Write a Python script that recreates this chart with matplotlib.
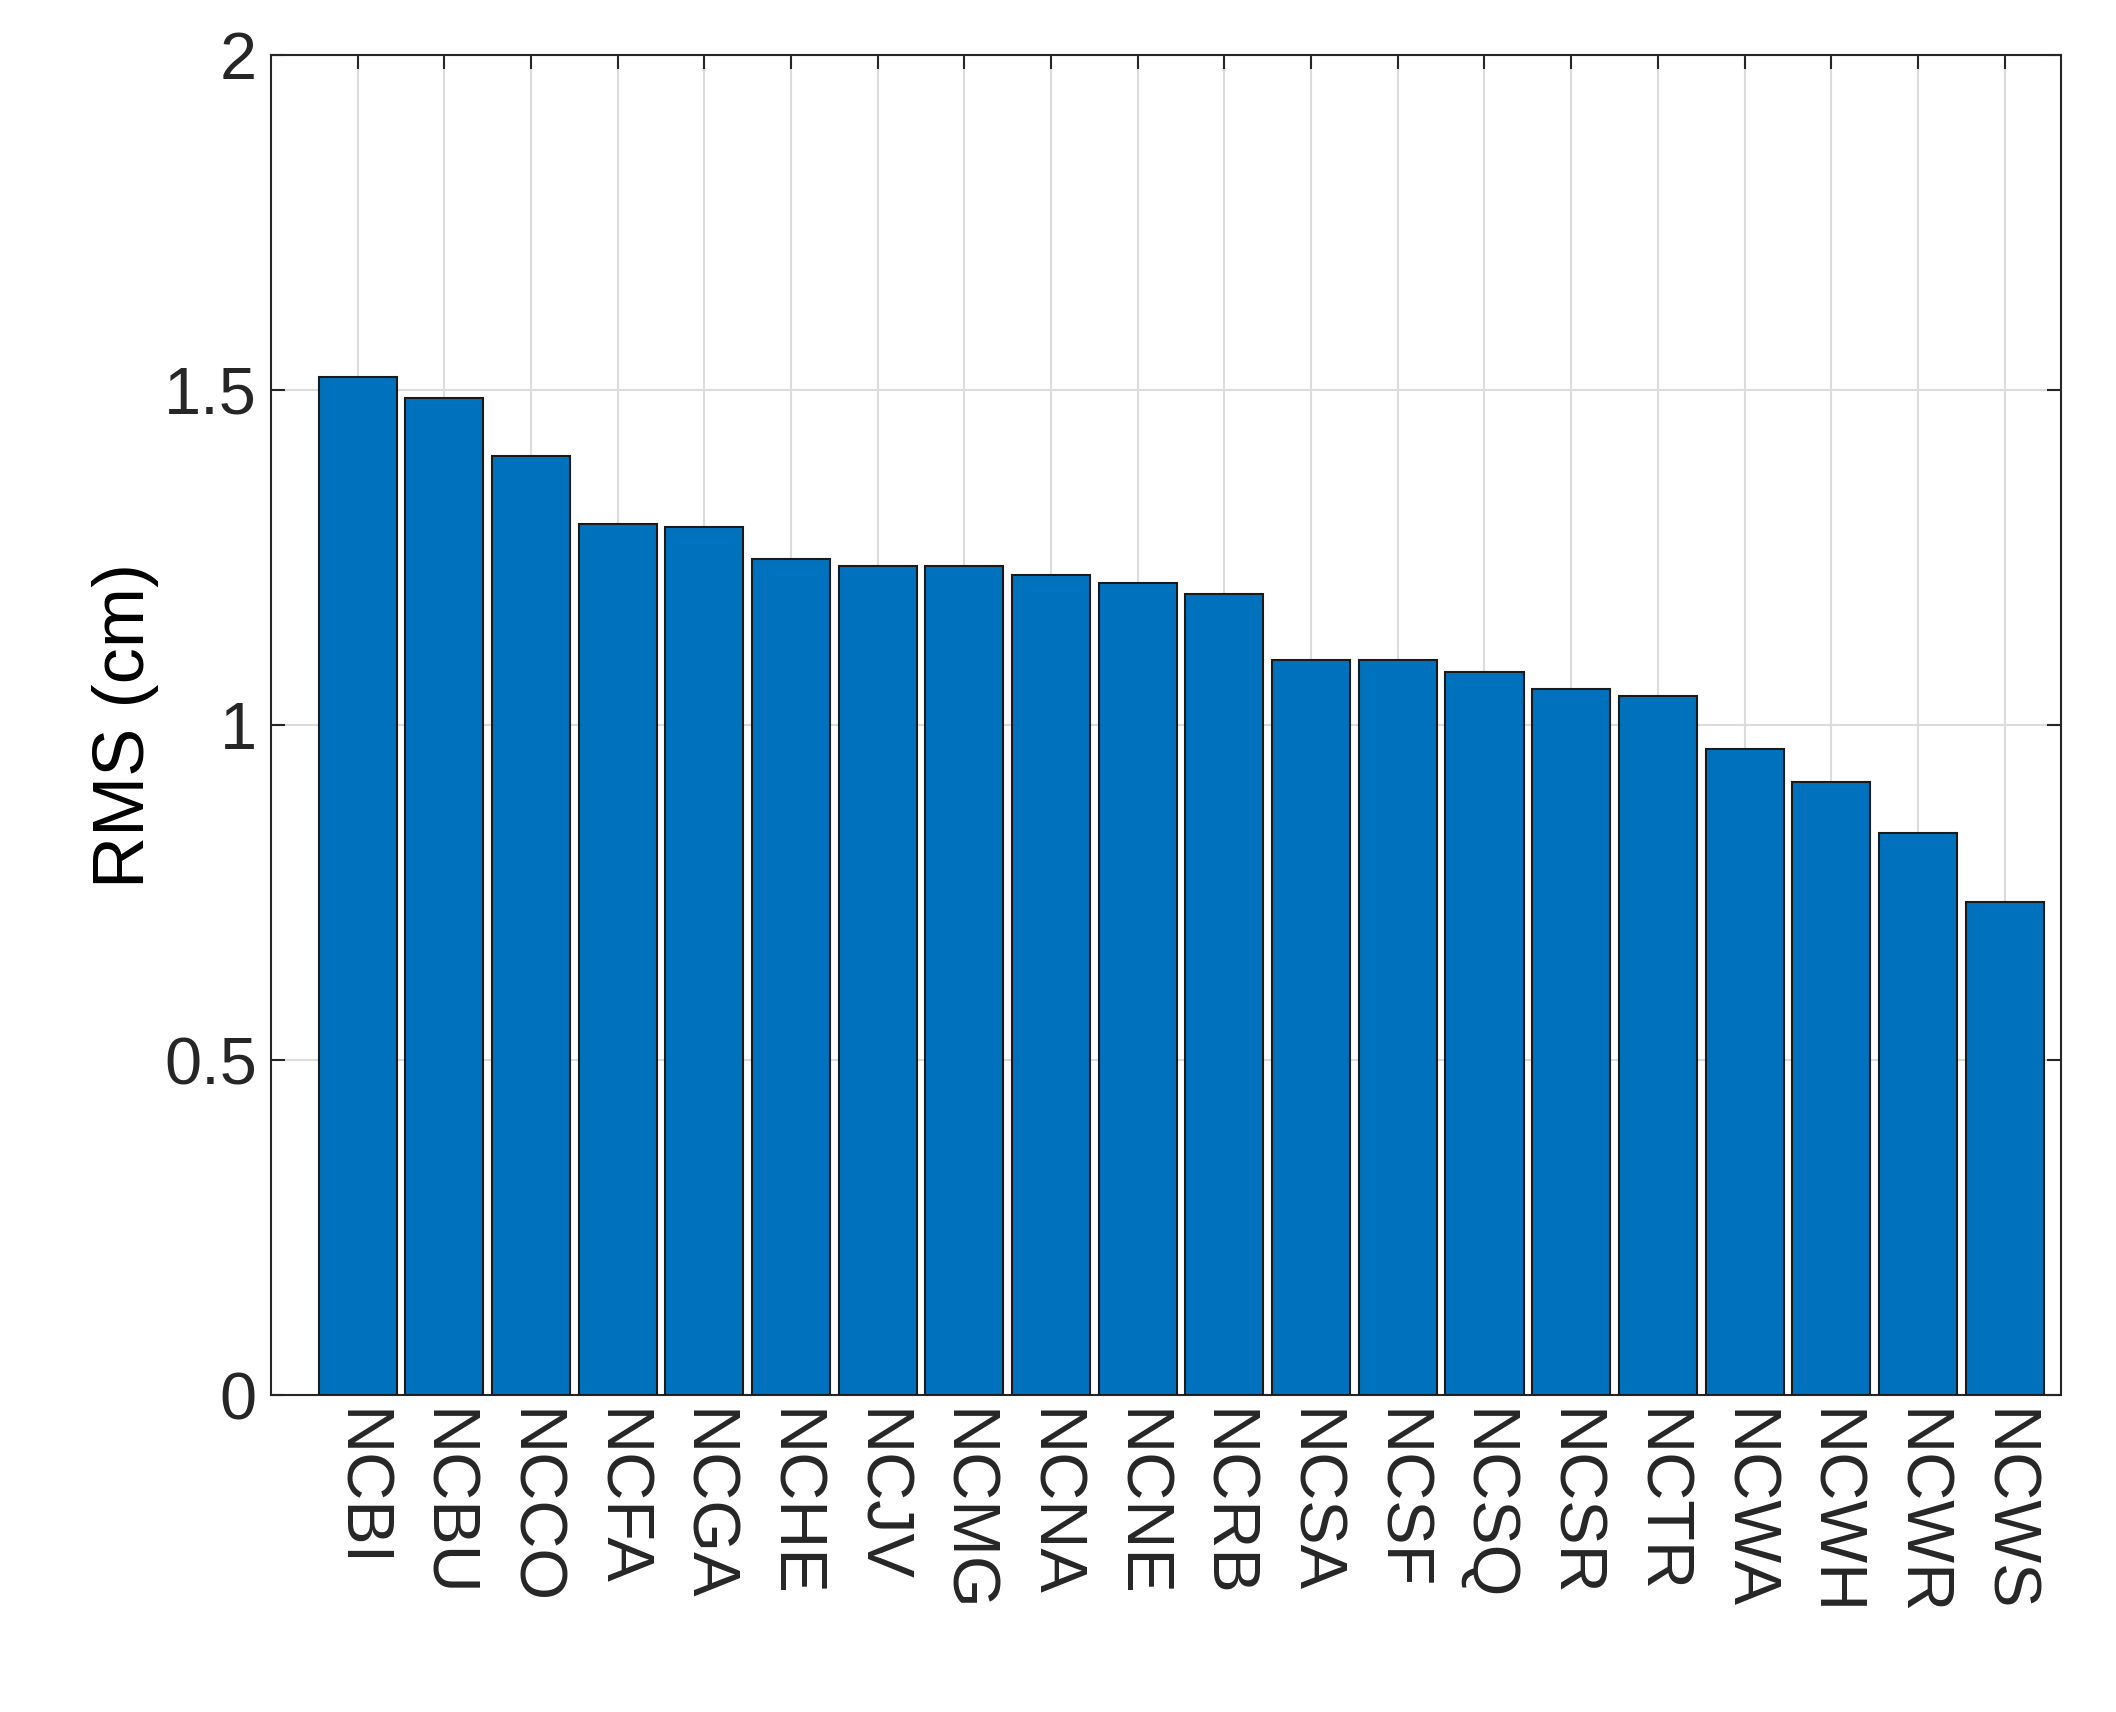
import matplotlib
matplotlib.use("Agg")
import matplotlib.pyplot as plt

stations = ["NCBI","NCBU","NCCO","NCFA","NCGA","NCHE","NCJV","NCMG","NCNA","NCNE",
            "NCRB","NCSA","NCSF","NCSQ","NCSR","NCTR","NCWA","NCWH","NCWR","NCWS"]
rms = [1.52,1.488,1.401,1.300,1.296,1.248,1.238,1.238,1.224,1.212,
       1.196,1.097,1.097,1.079,1.054,1.044,0.964,0.915,0.839,0.736]
yticks = [0, 0.5, 1, 1.5, 2]
ytick_labels = ["0", "0.5", "1", "1.5", "2"]

plt.rcParams['font.family'] = ['Liberation Sans', 'DejaVu Sans']
fig = plt.figure(figsize=(21.16, 17.12), dpi=100)
ax = fig.add_axes([0.128, 0.185, 0.846, 0.783])
x = list(range(1, len(stations) + 1))
ax.bar(x, rms, width=0.9, color="#0072BD", edgecolor="#1a1a1a", linewidth=1.5, zorder=3)
ax.set_xlim(0, 20.65)
ax.set_ylim(0, 2)
ax.set_yticks(yticks)
ax.set_yticklabels(ytick_labels, fontsize=48)
ax.set_xticks(x)
ax.set_xticklabels(stations, rotation=270, fontsize=48)
ax.set_ylabel("RMS (cm)", fontsize=52)
ax.grid(True, color="#dcdcdc", linewidth=1.5, zorder=0)
ax.tick_params(direction="in", length=10, width=1.5, top=True, right=True, colors="#262626", pad=10)
for s in ax.spines.values():
    s.set_linewidth(1.5)
    s.set_color("#262626")
fig.savefig("out.png", dpi=100)
